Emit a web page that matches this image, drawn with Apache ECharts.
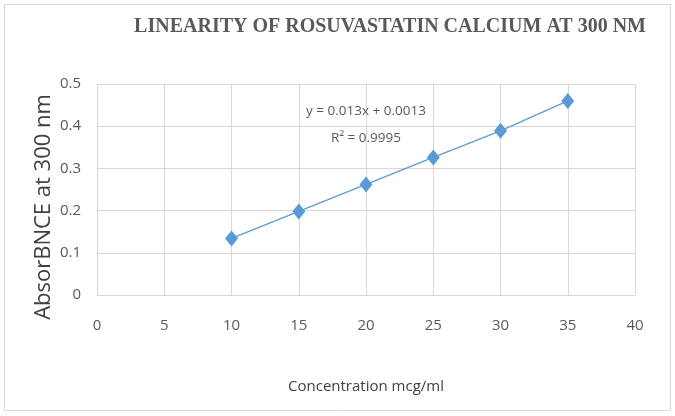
<!DOCTYPE html>
<html><head><meta charset="utf-8">
<script src="https://cdn.jsdelivr.net/npm/echarts@6/dist/echarts.min.js"></script>
<style>html,body{margin:0;padding:0;background:#fff}#c{width:675px;height:416px}</style>
</head><body><div id="c"></div>
<script>
const titleText = "LINEARITY OF ROSUVASTATIN CALCIUM AT 300 NM";
const xName = "Concentration mcg/ml";
const yName = "AbsorBNCE at 300 nm";
const concentrations = [10, 15, 20, 25, 30, 35];
const absorbance = [0.134, 0.198, 0.262, 0.326, 0.389, 0.460];
const equationText = "y = 0.013x + 0.0013";
const r2Text = "R² = 0.9995";

const chart = echarts.init(document.getElementById('c'));
const labelStyle = {show: true, position: 'inside', fontFamily: 'Open Sans', fontSize: 13.5, color: '#595959'};
chart.setOption({
  animation: false,
  backgroundColor: '#fff',
  title: {
    text: titleText, right: 24, top: 12,
    textStyle: {fontFamily: 'Liberation Serif', fontWeight: 'bold', fontSize: 20, color: '#595959'}
  },
  graphic: [
    {type: 'rect', shape: {x: 4.5, y: 4.5, width: 666, height: 406}, style: {fill: 'none', stroke: '#d9d9d9', lineWidth: 1}, z: -1},
    {type: 'text', x: 44, y: 207, rotation: Math.PI / 2,
     style: {text: yName, fontFamily: 'Open Sans', fontSize: 22, fill: '#404040', align: 'center', verticalAlign: 'middle'}}
  ],
  grid: {left: 97, right: 40, top: 84, bottom: 121},
  xAxis: {
    type: 'value', min: 0, max: 40, interval: 5,
    name: xName, nameLocation: 'middle', nameGap: 84,
    nameTextStyle: {fontFamily: 'Open Sans', fontSize: 15, color: '#404040'},
    axisLine: {show: false}, axisTick: {show: false},
    axisLabel: {fontFamily: 'Open Sans', fontSize: 15, color: '#595959', margin: 23},
    splitLine: {show: true, lineStyle: {color: '#d9d9d9', width: 1}}
  },
  yAxis: {
    type: 'value', min: 0, max: 0.5, interval: 0.1,
    axisLine: {show: false}, axisTick: {show: false},
    axisLabel: {fontFamily: 'Open Sans', fontSize: 15, color: '#595959', margin: 16},
    splitLine: {show: true, lineStyle: {color: '#d9d9d9', width: 1}}
  },
  series: [{
    type: 'line',
    data: concentrations.map((x, i) => [x, absorbance[i]]),
    symbol: 'diamond', symbolSize: [13, 16],
    lineStyle: {color: '#5b9bd5', width: 1.3},
    itemStyle: {color: '#5b9bd5'},
    markPoint: {
      symbol: 'circle', symbolSize: 1,
      itemStyle: {color: 'rgba(0,0,0,0)'},
      data: [
        {coord: [20, 0.436], label: Object.assign({formatter: equationText}, labelStyle)},
        {coord: [20, 0.372], label: Object.assign({formatter: r2Text}, labelStyle)}
      ]
    }
  }]
});
</script></body></html>
